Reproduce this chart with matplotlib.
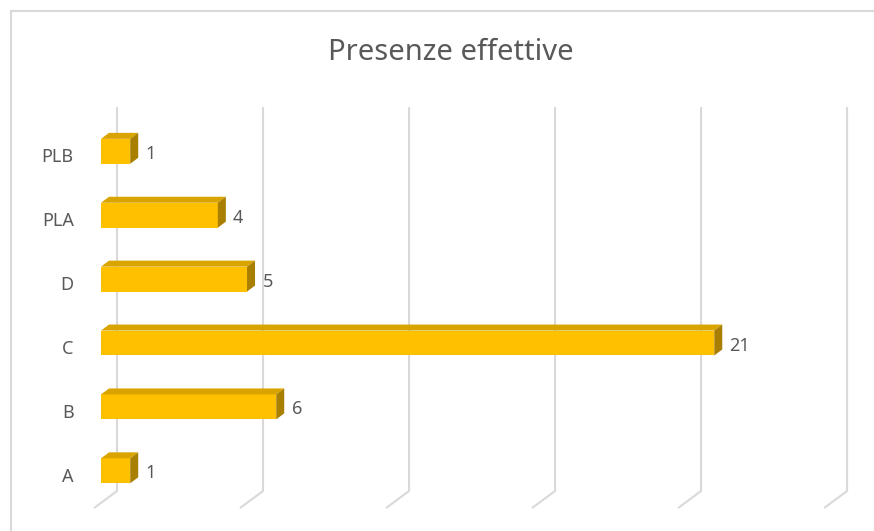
import matplotlib
matplotlib.use("Agg")
import matplotlib.pyplot as plt
from matplotlib.patches import Polygon, Rectangle

categories = ["A", "B", "C", "D", "PLA", "PLB"]
values = [1, 6, 21, 5, 4, 1]
grid_ticks = [0, 5, 10, 15, 20, 25]
title = "Presenze effettive"

front_col = "#FFC000"
top_col = "#D9A400"
side_col = "#A87F00"
grid_col = "#D9D9D9"
text_col = "#595959"

plt.rcParams["font.family"] = ["Noto Sans", "DejaVu Sans"]

fig = plt.figure(figsize=(8.74, 5.31), dpi=100)
ax = fig.add_axes([0, 0, 1, 1])
ax.set_xlim(-3.459, 26.47)
ax.set_ylim(-0.942, 7.368)
ax.axis("off")

# chart border (cut by the image on right/bottom)
fig.patches.append(Rectangle((11 / 874, -0.1), 1.2, 1 - 11 / 531 + 0.1,
                             transform=fig.transFigure, fill=False,
                             edgecolor=grid_col, lw=1.5))

# 3d projection offsets
bx = 0.548                   # back wall shift
fx, fy = -0.788, -0.267      # floor diagonal
dx, dy = 0.274, 0.094        # bar depth
h = 0.195
top_y, bot_y = 5.693, -0.316

for g in grid_ticks:
    ax.plot([g + bx, g + bx, g + bx + fx], [top_y, bot_y, bot_y + fy],
            color=grid_col, lw=1.5, solid_capstyle="butt", zorder=1)

for i, (c, v) in enumerate(zip(categories, values)):
    ax.add_patch(Rectangle((0, i - h), v, 2 * h, facecolor=front_col,
                           edgecolor="none", zorder=3))
    ax.add_patch(Polygon([(0, i + h), (v, i + h), (v + dx, i + h + dy), (dx, i + h + dy)],
                         closed=True, facecolor=top_col, edgecolor="none", zorder=3))
    ax.add_patch(Polygon([(v, i - h), (v, i + h), (v + dx, i + h + dy), (v + dx, i - h + dy)],
                         closed=True, facecolor=side_col, edgecolor="none", zorder=3))
    ax.text(v + dx + 0.25, i - 0.04, str(v), ha="left", va="center",
            fontsize=13, color=text_col)
    ax.text(-0.93, i - 0.09, c, ha="right", va="center",
            fontsize=13, color=text_col)

fig.text(0.516, 1 - 53 / 531, title, ha="center", va="center",
         fontsize=21, color=text_col)

fig.savefig("out.png", dpi=100)
